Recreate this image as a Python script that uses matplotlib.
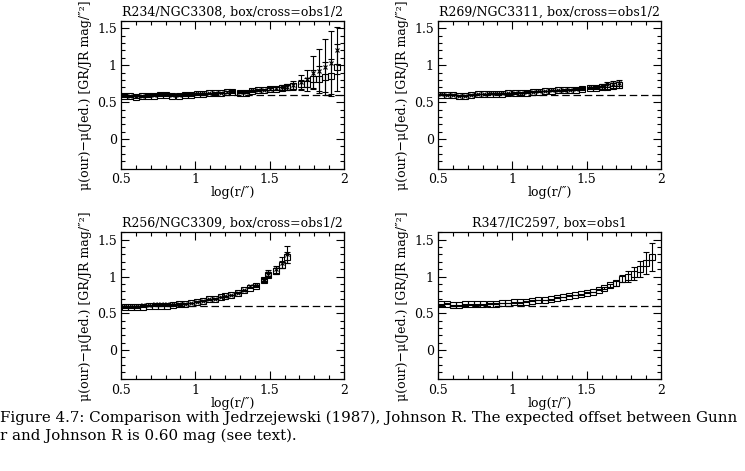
import matplotlib
matplotlib.use("Agg")
import matplotlib.pyplot as plt
from matplotlib.ticker import MultipleLocator

plt.rcParams['font.family'] = ['DejaVu Serif']
plt.rcParams['mathtext.fontset'] = 'dejavuserif'

# --- data ------------------------------------------------------------------
# R234/NGC3308
p1_x = [0.52, 0.56, 0.60, 0.64, 0.68, 0.72, 0.76, 0.80, 0.84, 0.89, 0.93, 0.97,
        1.01, 1.05, 1.09, 1.13, 1.17, 1.21, 1.25, 1.30, 1.34, 1.38, 1.42, 1.46,
        1.50, 1.54, 1.58, 1.62, 1.66, 1.71, 1.75, 1.79, 1.83, 1.87, 1.91, 1.95]
p1_box = [0.58, 0.58, 0.57, 0.58, 0.58, 0.59, 0.60, 0.60, 0.59, 0.59, 0.60, 0.60,
          0.61, 0.61, 0.62, 0.62, 0.63, 0.64, 0.64, 0.63, 0.63, 0.65, 0.66, 0.67,
          0.68, 0.68, 0.69, 0.70, 0.72, 0.74, 0.74, 0.81, 0.82, 0.84, 0.85, 0.97]
p1_box_err = [0.01, 0.01, 0.01, 0.01, 0.01, 0.01, 0.01, 0.01, 0.01, 0.01, 0.01, 0.01,
              0.01, 0.01, 0.01, 0.01, 0.01, 0.01, 0.01, 0.01, 0.01, 0.01, 0.01, 0.01,
              0.01, 0.02, 0.02, 0.03, 0.04, 0.06, 0.09, 0.12, 0.17, 0.20, 0.24, 0.32]
p1_cross = [0.60, 0.59, 0.59, 0.59, 0.60, 0.60, 0.61, 0.61, 0.60, 0.60, 0.61, 0.61,
            0.62, 0.62, 0.62, 0.63, 0.63, 0.64, 0.65, 0.64, 0.64, 0.66, 0.67, 0.67,
            0.68, 0.69, 0.70, 0.71, 0.73, 0.77, 0.82, 0.90, 0.92, 0.98, 1.03, 1.20]
p1_cross_err = [0.01, 0.01, 0.01, 0.01, 0.01, 0.01, 0.01, 0.01, 0.01, 0.01, 0.01, 0.01,
                0.01, 0.01, 0.01, 0.01, 0.01, 0.01, 0.01, 0.01, 0.01, 0.01, 0.01, 0.01,
                0.02, 0.02, 0.03, 0.04, 0.06, 0.10, 0.12, 0.22, 0.30, 0.38, 0.44, 0.32]

# R269/NGC3311
p2_x = [0.52, 0.56, 0.60, 0.64, 0.68, 0.72, 0.77, 0.81, 0.85, 0.89, 0.93, 0.97,
        1.02, 1.06, 1.10, 1.14, 1.18, 1.22, 1.27, 1.31, 1.35, 1.39, 1.43, 1.47,
        1.52, 1.56, 1.60, 1.64, 1.68, 1.72]
p2_box = [0.60, 0.60, 0.60, 0.59, 0.59, 0.60, 0.61, 0.61, 0.61, 0.61, 0.61, 0.62,
          0.62, 0.63, 0.63, 0.64, 0.64, 0.65, 0.65, 0.66, 0.66, 0.67, 0.67, 0.68,
          0.69, 0.69, 0.70, 0.71, 0.72, 0.73]
p2_box_err = [0.005, 0.005, 0.005, 0.005, 0.005, 0.005, 0.005, 0.005, 0.005, 0.005,
              0.005, 0.005, 0.005, 0.005, 0.005, 0.005, 0.005, 0.005, 0.005, 0.005,
              0.005, 0.005, 0.005, 0.01, 0.01, 0.015, 0.02, 0.03, 0.035, 0.04]
p2_cross = [0.61, 0.60, 0.60, 0.59, 0.59, 0.60, 0.61, 0.61, 0.62, 0.62, 0.62, 0.62,
            0.63, 0.63, 0.64, 0.64, 0.65, 0.65, 0.66, 0.66, 0.67, 0.67, 0.68, 0.69,
            0.70, 0.71, 0.72, 0.74, 0.75, 0.76]
p2_cross_err = [0.005, 0.005, 0.005, 0.005, 0.005, 0.005, 0.005, 0.005, 0.005, 0.005,
                0.005, 0.005, 0.005, 0.005, 0.005, 0.005, 0.005, 0.005, 0.005, 0.005,
                0.005, 0.005, 0.005, 0.01, 0.01, 0.015, 0.02, 0.03, 0.035, 0.04]

# R256/NGC3309
p3_x = [0.53, 0.57, 0.61, 0.65, 0.69, 0.73, 0.77, 0.81, 0.85, 0.89, 0.93, 0.97,
        1.01, 1.05, 1.09, 1.13, 1.17, 1.20, 1.24, 1.29, 1.33, 1.37, 1.41, 1.46,
        1.49, 1.54, 1.58, 1.62]
p3_box = [0.58, 0.58, 0.58, 0.59, 0.60, 0.60, 0.60, 0.60, 0.61, 0.62, 0.63, 0.64,
          0.66, 0.67, 0.69, 0.70, 0.72, 0.73, 0.75, 0.78, 0.81, 0.85, 0.87, 0.95,
          1.02, 1.07, 1.16, 1.26]
p3_box_err = [0.005, 0.005, 0.005, 0.005, 0.005, 0.005, 0.005, 0.005, 0.005, 0.005,
              0.005, 0.005, 0.005, 0.005, 0.005, 0.005, 0.005, 0.005, 0.005, 0.005,
              0.005, 0.01, 0.01, 0.02, 0.03, 0.04, 0.05, 0.07]
p3_cross = [0.60, 0.60, 0.60, 0.61, 0.61, 0.62, 0.62, 0.62, 0.62, 0.63, 0.63, 0.64,
            0.66, 0.67, 0.69, 0.70, 0.72, 0.73, 0.75, 0.78, 0.81, 0.87, 0.88, 0.96,
            1.05, 1.10, 1.19, 1.30]
p3_cross_err = [0.005, 0.005, 0.005, 0.005, 0.005, 0.005, 0.005, 0.005, 0.005, 0.005,
                0.005, 0.005, 0.005, 0.005, 0.005, 0.005, 0.005, 0.005, 0.005, 0.005,
                0.005, 0.01, 0.01, 0.02, 0.04, 0.05, 0.08, 0.11]

# R347/IC2597 (one observation)
p4_x = [0.52, 0.56, 0.60, 0.64, 0.68, 0.72, 0.76, 0.80, 0.85, 0.89, 0.93, 0.97,
        1.01, 1.05, 1.09, 1.13, 1.17, 1.22, 1.26, 1.30, 1.34, 1.38, 1.42, 1.46,
        1.50, 1.54, 1.58, 1.62, 1.66, 1.70, 1.74, 1.78, 1.82, 1.86, 1.90, 1.94]
p4_box = [0.62, 0.63, 0.61, 0.61, 0.62, 0.62, 0.62, 0.62, 0.63, 0.63, 0.64, 0.64,
          0.65, 0.65, 0.66, 0.67, 0.68, 0.68, 0.69, 0.71, 0.72, 0.74, 0.75, 0.76,
          0.78, 0.79, 0.82, 0.84, 0.88, 0.91, 0.97, 1.00, 1.04, 1.10, 1.18, 1.26]
p4_box_err = [0.005, 0.005, 0.005, 0.005, 0.005, 0.005, 0.005, 0.005, 0.005, 0.005,
              0.005, 0.005, 0.005, 0.005, 0.005, 0.005, 0.005, 0.005, 0.005, 0.005,
              0.005, 0.005, 0.005, 0.005, 0.005, 0.005, 0.01, 0.015, 0.02, 0.035,
              0.05, 0.07, 0.09, 0.11, 0.15, 0.19]

titles = ['R234/NGC3308, box/cross=obs1/2', 'R269/NGC3311, box/cross=obs1/2',
          'R256/NGC3309, box/cross=obs1/2', 'R347/IC2597, box=obs1']
offset = 0.60
xticks = [0.5, 1, 1.5, 2]
xticklabels = ['0.5', '1', '1.5', '2']
yticks = [0, 0.5, 1, 1.5]
yticklabels = ['0', '0.5', '1', '1.5']

caption = ("Figure 4.7: Comparison with Jedrzejewski (1987), Johnson R. The expected offset between Gunn\n"
           "r and Johnson R is 0.60 mag (see text).")


def draw_panel(ax, title, x, box, box_err, cross=None, cross_err=None):
    ax.axhline(offset, color='k', lw=0.9, dashes=(6, 3))
    ax.errorbar(x, box, yerr=box_err, fmt='s', ms=4.3, mfc='none', mec='k', mew=0.8,
                ecolor='k', elinewidth=0.8, capsize=2, capthick=0.8)
    if cross is not None:
        ax.errorbar(x, cross, yerr=cross_err, fmt='x', ms=3.5, mec='k', mew=0.8,
                    ecolor='k', elinewidth=0.8, capsize=2, capthick=0.8)
    ax.set_xlim(0.5, 2)
    ax.set_ylim(-0.4, 1.6)
    ax.set_xticks(xticks)
    ax.set_xticklabels(xticklabels)
    ax.set_yticks(yticks)
    ax.set_yticklabels(yticklabels)
    ax.xaxis.set_minor_locator(MultipleLocator(0.1))
    ax.yaxis.set_minor_locator(MultipleLocator(0.1))
    ax.tick_params(which='both', direction='in', top=True, right=True,
                   labelsize=9, width=0.8)
    ax.tick_params(which='major', length=6, pad=3)
    ax.tick_params(which='minor', length=3)
    for s in ax.spines.values():
        s.set_linewidth(0.9)
    ax.set_title(title, fontsize=9, pad=4)
    ax.set_xlabel('log(r/″)', fontsize=9, labelpad=0)
    ax.set_ylabel('μ(our)−μ(Jed.) [GR/JR mag/″²]', fontsize=9, labelpad=4)


fig = plt.figure(figsize=(7.45, 4.71), dpi=100)
ax1 = fig.add_axes([0.1624, 0.642, 0.2993, 0.3136])
ax2 = fig.add_axes([0.5879, 0.642, 0.2993, 0.3136])
ax3 = fig.add_axes([0.1624, 0.1945, 0.2993, 0.312])
ax4 = fig.add_axes([0.5879, 0.1945, 0.2993, 0.312])

draw_panel(ax1, titles[0], p1_x, p1_box, p1_box_err, p1_cross, p1_cross_err)
draw_panel(ax2, titles[1], p2_x, p2_box, p2_box_err, p2_cross, p2_cross_err)
draw_panel(ax3, titles[2], p3_x, p3_box, p3_box_err, p3_cross, p3_cross_err)
draw_panel(ax4, titles[3], p4_x, p4_box, p4_box_err)

fig.text(0.0, 0.128, caption, fontsize=10.8, ha='left', va='top', linespacing=1.3)

fig.savefig('out.png', dpi=100)
